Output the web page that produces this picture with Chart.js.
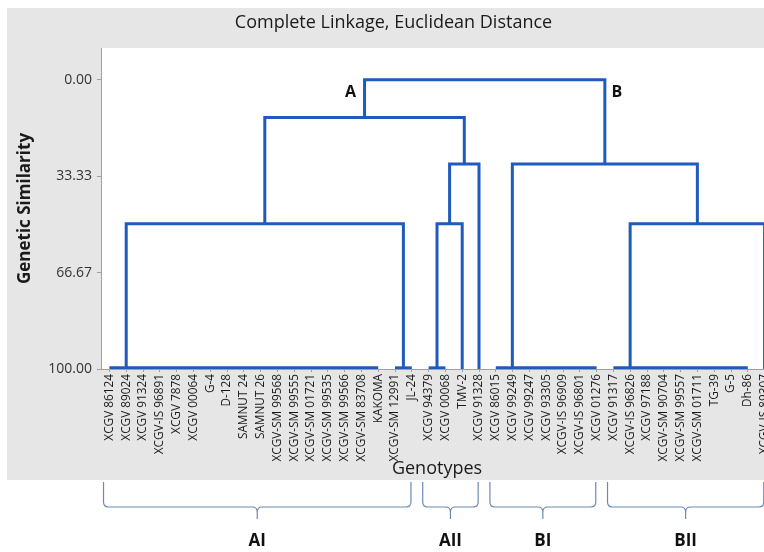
<!DOCTYPE html>
<html><head><meta charset="utf-8">
<script src="https://cdn.jsdelivr.net/npm/chart.js@4.4.1/dist/chart.umd.min.js"></script>
<style>html,body{margin:0;padding:0;background:#fff;overflow:hidden;width:764px;height:552px}canvas{display:block}</style>
</head><body>
<canvas id="c" width="782" height="552"></canvas>
<script>
// ---- data ----
const genotypes = [
 'XCGV 86124','XCGV 89024','XCGV 91324','XCGV-IS 96891','XCGV 7878','XCGV 00064','G-4','D-128','SAMNUT 24','SAMNUT 26',
 'XCGV-SM 99568','XCGV-SM 99555','XCGV-SM 01721','XCGV-SM 99535','XCGV-SM 99566','XCGV-SM 83708','KAKOMA','XCGV-SM 12991','JL-24',
 'XCGV 94379','XCGV 00068','TMV-2','XCGV 91328',
 'XCGV 86015','XCGV 99249','XCGV 99247','XCGV 93305','XCGV-IS 96909','XCGV-IS 96801','XCGV 01276',
 'XCGV 91317','XCGV-IS 96826','XCGV 97188','XCGV-SM 90704','XCGV-SM 99557','XCGV-SM 01711','TG-39','G-5','Dh-86','XCGV-IS 89307'
];
// runs of leaves joined (chain-wise) at almost 100 similarity: [first leaf, last leaf]
const subclusters = [[0,16],[17,18],[19,20],[21,21],[22,22],[23,29],[30,38],[39,39]];
const subclusterLevel = 99.6;
// merges: [left node, right node, similarity]; nodes 0-7 = subclusters, 8+ = previous merges in order
const merges = [
  [0, 1, 49.8],   // 8  AI
  [2, 3, 49.8],   // 9
  [9, 4, 29.1],   // 10 AII
  [8, 10, 13.0],  // 11 A
  [6, 7, 49.8],   // 12 BII
  [5, 12, 29.1],  // 13 B
  [11, 13, 0.0]   // 14 root
];
const similarityTicks = [0, 33.33, 66.67, 100];
const cladeNames = ['AI','AII','BI','BII'];
const cladeRanges = [[0,18],[19,22],[23,29],[30,39]];
const mainClusterNames = ['A','B'];

// ---- build dendrogram segments ----
const LINE = '#1f5bbd';
const nodes = [];
const datasets = [];
const seg = pts => ({data: pts, showLine: true, borderColor: LINE, borderWidth: 3, pointRadius: 0, fill: false, tension: 0});
subclusters.forEach(([a, b]) => {
  let pos = b;
  for (let k = b - 1; k >= a; k--) pos = (k + pos) / 2;
  nodes.push({pos, h: a === b ? 100 : subclusterLevel});
  if (b > a) datasets.push(seg([{x: a, y: subclusterLevel}, {x: b, y: subclusterLevel}]));
});
merges.forEach(([l, r, h]) => {
  const L = nodes[l], R = nodes[r];
  datasets.push(seg([{x: L.pos, y: L.h}, {x: L.pos, y: h}, {x: R.pos, y: h}, {x: R.pos, y: R.h}]));
  nodes.push({pos: (L.pos + R.pos) / 2, h});
});
const rootMerge = merges[merges.length - 1];

Chart.defaults.font.family = "'Open Sans', 'Noto Sans', sans-serif";

const decor = {
  id: 'decor',
  beforeDraw(chart) {
    const {ctx, chartArea: ca} = chart;
    ctx.save();
    ctx.fillStyle = '#e6e6e6';
    ctx.fillRect(7, 8, chart.width - 7, 480 - 8);
    ctx.fillStyle = '#ffffff';
    ctx.fillRect(ca.left, ca.top, ca.right - ca.left, ca.bottom - ca.top);
    ctx.restore();
  },
  afterDraw(chart) {
    const {ctx} = chart;
    const xs = chart.scales.x, ys = chart.scales.y;
    ctx.save();
    // A / B labels beside the root legs
    ctx.fillStyle = '#111';
    ctx.font = "bold 16px 'Open Sans', sans-serif";
    ctx.textBaseline = 'middle';
    ctx.textAlign = 'center';
    const yl = ys.getPixelForValue(4.2);
    ctx.fillText(mainClusterNames[0], xs.getPixelForValue(nodes[rootMerge[0]].pos) - 14, yl);
    ctx.fillText(mainClusterNames[1], xs.getPixelForValue(nodes[rootMerge[1]].pos) + 12, yl);
    // braces under the groups
    const yTop = 482, yMid = 507, yTip = 519, r = 5;
    cladeRanges.forEach(([a, b], i) => {
      const x1 = xs.getPixelForValue(a - 0.35), x2 = xs.getPixelForValue(b - 0.05);
      const cx = (x1 + x2) / 2;
      ctx.strokeStyle = '#6a8ab4';
      ctx.lineWidth = 1.2;
      ctx.beginPath();
      ctx.moveTo(x1, yTop); ctx.lineTo(x1, yMid - r);
      ctx.quadraticCurveTo(x1, yMid, x1 + r, yMid);
      ctx.lineTo(cx - r, yMid);
      ctx.quadraticCurveTo(cx, yMid, cx, yMid + r);
      ctx.lineTo(cx, yTip);
      ctx.moveTo(x2, yTop); ctx.lineTo(x2, yMid - r);
      ctx.quadraticCurveTo(x2, yMid, x2 - r, yMid);
      ctx.lineTo(cx + r, yMid);
      ctx.quadraticCurveTo(cx, yMid, cx, yMid + r);
      ctx.stroke();
      ctx.fillStyle = '#111';
      ctx.font = "bold 17px 'Open Sans', sans-serif";
      ctx.fillText(cladeNames[i], cx, 541);
    });
    ctx.restore();
  }
};

new Chart(document.getElementById('c'), {
  type: 'scatter',
  data: {datasets},
  plugins: [decor],
  options: {
    responsive: false,
    animation: false,
    layout: {padding: {left: 14, right: 9, top: 0, bottom: 72}},
    plugins: {
      legend: {display: false},
      tooltip: {enabled: false},
      title: {display: true, text: 'Complete Linkage, Euclidean Distance', color: '#1a1a1a',
              font: {size: 18, weight: 'normal'}, padding: {top: 12, bottom: 14.4}}
    },
    scales: {
      x: {
        type: 'linear', min: -0.5, max: 39.5,
        afterBuildTicks: s => { s.ticks = genotypes.map((_, i) => ({value: i})); },
        afterFit: s => { s.height = 111; },
        ticks: {autoSkip: false, minRotation: 90, maxRotation: 90, padding: 2, color: '#1a1a1a',
                font: {size: 11.8}, callback: (v, i) => genotypes[i]},
        grid: {drawOnChartArea: false, tickLength: 3, color: '#a0a0a0'},
        border: {color: '#a0a0a0'},
        title: {display: true, text: 'Genotypes', color: '#1a1a1a', font: {size: 18}, padding: {top: 0, bottom: 0}}
      },
      y: {
        type: 'linear', reverse: true, min: -11, max: 100,
        afterBuildTicks: s => { s.ticks = similarityTicks.map(v => ({value: v})); },
        afterFit: s => { s.width = 87; },
        ticks: {padding: 5, color: '#333', font: {size: 14}, callback: v => Number(v).toFixed(2)},
        grid: {drawOnChartArea: false, tickLength: 4, color: '#a0a0a0'},
        border: {color: '#a0a0a0'},
        title: {display: true, text: 'Genetic Similarity', color: '#1a1a1a', font: {size: 17, weight: 'bold'}, padding: {top: 1, bottom: 0}}
      }
    }
  }
});
</script>
</body></html>
